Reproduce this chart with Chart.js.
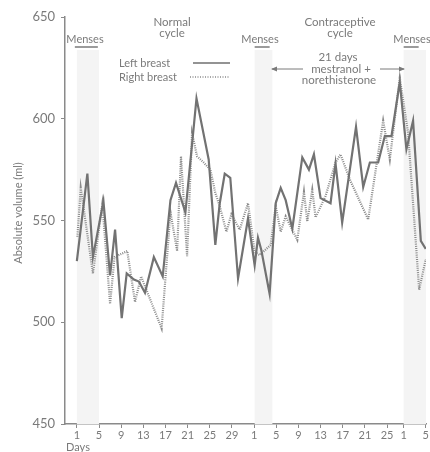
<!DOCTYPE html>
<html>
<head>
<meta charset="utf-8">
<script src="https://cdn.jsdelivr.net/npm/chart.js@4"></script>
<style>
  html, body { margin: 0; padding: 0; background: #fff; }
  #wrap { width: 430px; height: 452px; }
</style>
</head>
<body>
<div id="wrap"><canvas id="chart"></canvas></div>
<script>
// x = day index along the whole record (0 = day 1 of the normal cycle)
const leftX = [0, 1.9, 2.9, 4.8, 6.0, 6.9, 8.1, 9.0, 10.3, 11.2, 12.3, 13.9, 15.5, 16.9, 17.9, 19.6, 21.6, 23.8, 25.0, 25.8, 26.7, 27.7, 29.1, 30.9, 32.1, 32.7, 33.3, 34.8, 35.9, 36.8, 37.7, 38.9, 40.7, 41.9, 42.8, 44.0, 45.8, 46.7, 47.9, 50.4, 51.7, 52.9, 54.4, 55.6, 56.8, 58.3, 59.5, 60.7, 62.1, 63];
const leftY = [530, 573, 532, 559.5, 523, 545.5, 502, 524, 521, 520, 514.5, 532, 522.5, 560, 568.5, 554, 610, 580, 538, 558.5, 573, 571, 521.5, 551, 528, 541.5, 535.5, 514, 558.5, 566, 560, 546, 581, 575, 582.5, 561, 558.5, 578, 549, 596, 566.5, 578.5, 578.5, 591.5, 591.5, 618, 585, 599, 540, 536];

const rightX = [0.1, 0.7, 2.9, 4.6, 6.0, 6.8, 9.1, 10.5, 11.6, 15.3, 16.9, 18.1, 18.8, 19.9, 20.8, 21.7, 22.9, 24.1, 25.0, 25.8, 27.0, 27.9, 29.4, 30.9, 32.1, 33.0, 35.0, 35.9, 36.8, 37.7, 39.8, 41.0, 41.6, 42.5, 43.1, 44.9, 46.7, 47.6, 49.3, 52.6, 55.3, 56.5, 58.3, 59.8, 61.8, 63];
const rightY = [542, 566, 524, 558, 509, 532, 535, 510, 522.5, 497, 554, 535, 581.5, 532.5, 593, 581.5, 578.5, 575, 563.5, 557, 544.5, 553, 545.5, 558.5, 534.5, 533, 538, 557, 544.5, 552, 540.5, 564, 549.5, 565, 551.5, 562, 578.5, 582.5, 570, 550.5, 599, 580, 620, 593, 516, 531];

const tickPos = [0, 4, 8, 12, 16, 20, 24, 28, 32, 36, 40, 44, 48, 52, 56, 59, 63];
const tickLabels = ["1", "5", "9", "13", "17", "21", "25", "29", "1", "5", "9", "13", "17", "21", "25", "1", "5"];

const mensesStart = [0, 32.1, 59];
const mensesEnd = [4, 35.3, 66];

const textCol = "#7a7a7a";
const fontFam = "Lato, 'DejaVu Sans', sans-serif";

const toPoints = (xs, ys) => xs.map((x, i) => ({ x: x, y: ys[i] }));

const decor = {
  id: "decor",
  beforeDatasetsDraw(chart) {
    const { ctx, chartArea, scales } = chart;
    ctx.save();
    ctx.fillStyle = "#f4f4f4";
    for (let i = 0; i < mensesStart.length; i++) {
      const a = scales.x.getPixelForValue(mensesStart[i]);
      const b = Math.min(scales.x.getPixelForValue(mensesEnd[i]), chartArea.right);
      ctx.fillRect(a, 50, b - a, chartArea.bottom - 50);
    }
    ctx.restore();
  },
  afterDraw(chart) {
    const { ctx, scales } = chart;
    ctx.save();
    ctx.fillStyle = textCol;
    ctx.strokeStyle = "#7a7a7a";
    ctx.textBaseline = "middle";
    ctx.font = "11px " + fontFam;

    // menses labels with a bar under each
    ctx.textAlign = "center";
    const labelX = [85, 260, 412];
    for (let i = 0; i < mensesStart.length; i++) {
      const a = scales.x.getPixelForValue(mensesStart[i]);
      ctx.fillText("Menses", labelX[i], 39);
      ctx.lineWidth = 1.5;
      ctx.beginPath();
      ctx.moveTo(i === 0 ? a - 2 : a, 47);
      ctx.lineTo(Math.min(i === 0 ? a + 21 : a + 15, 430), 47);
      ctx.stroke();
    }

    ctx.font = "11.5px " + fontFam;
    ctx.fillText("Normal", 172, 22);
    ctx.fillText("cycle", 172, 33);
    ctx.fillText("Contraceptive", 340, 22);
    ctx.fillText("cycle", 340, 33);
    ctx.fillText("21 days", 338, 57);
    ctx.fillText("mestranol +", 341, 69);
    ctx.fillText("norethisterone", 339, 80);

    // arrows
    ctx.lineWidth = 1;
    ctx.beginPath();
    ctx.moveTo(272, 69); ctx.lineTo(303, 69);
    ctx.moveTo(380, 69); ctx.lineTo(404, 69);
    ctx.stroke();
    ctx.beginPath();
    ctx.moveTo(271, 69); ctx.lineTo(277, 66.5); ctx.lineTo(277, 71.5); ctx.closePath();
    ctx.moveTo(405, 69); ctx.lineTo(399, 66.5); ctx.lineTo(399, 71.5); ctx.closePath();
    ctx.fill();

    // legend
    ctx.textAlign = "left";
    ctx.font = "11px " + fontFam;
    ctx.fillText("Left breast", 119, 63);
    ctx.fillText("Right breast", 119, 77);
    ctx.strokeStyle = "#6f6f6f";
    ctx.lineWidth = 1.6;
    ctx.beginPath(); ctx.moveTo(193, 63); ctx.lineTo(230, 63); ctx.stroke();
    ctx.strokeStyle = "#8a8a8a";
    ctx.setLineDash([1, 1.5]);
    ctx.beginPath(); ctx.moveTo(190, 77); ctx.lineTo(230, 77); ctx.stroke();
    ctx.setLineDash([]);

    ctx.fillText("Days", 66, 447);

    // y title
    ctx.translate(18, 213);
    ctx.rotate(-Math.PI / 2);
    ctx.textAlign = "center";
    ctx.fillText("Absolute volume (ml)", 0, 0);
    ctx.restore();
  }
};

new Chart(document.getElementById("chart"), {
  type: "line",
  data: {
    datasets: [
      {
        label: "Left breast",
        data: toPoints(leftX, leftY),
        borderColor: "#727272",
        borderWidth: 2.2,
        pointRadius: 0,
        tension: 0
      },
      {
        label: "Right breast",
        data: toPoints(rightX, rightY),
        borderColor: "#8a8a8a",
        borderWidth: 2.2,
        borderDash: [1, 1.2],
        pointRadius: 0,
        tension: 0
      }
    ]
  },
  options: {
    responsive: true,
    maintainAspectRatio: false,
    animation: false,
    layout: { padding: { top: 17, right: 0, left: 0, bottom: 0 } },
    plugins: { legend: { display: false }, tooltip: { enabled: false } },
    scales: {
      x: {
        type: "linear",
        min: -2.14,
        max: 63.04,
        afterBuildTicks: (scale) => { scale.ticks = tickPos.map(v => ({ value: v })); },
        afterFit: (scale) => { scale.height = 28; },
        grid: { drawOnChartArea: false, drawTicks: true, tickLength: 4, color: "#8a8a8a" },
        border: { display: true, color: "#8a8a8a", width: 1.5 },
        ticks: {
          autoSkip: false,
          maxRotation: 0,
          padding: 1,
          color: textCol,
          font: { family: fontFam, size: 11 },
          callback: (v) => tickLabels[tickPos.indexOf(v)]
        }
      },
      y: {
        min: 450,
        max: 650,
        afterFit: (scale) => { scale.width = 65; },
        grid: { drawOnChartArea: false, drawTicks: true, tickLength: 4, color: "#8a8a8a" },
        border: { display: true, color: "#8a8a8a", width: 1.5 },
        ticks: {
          stepSize: 50,
          padding: 6,
          color: textCol,
          font: { family: fontFam, size: 13 }
        }
      }
    }
  },
  plugins: [decor]
});
</script>
</body>
</html>
